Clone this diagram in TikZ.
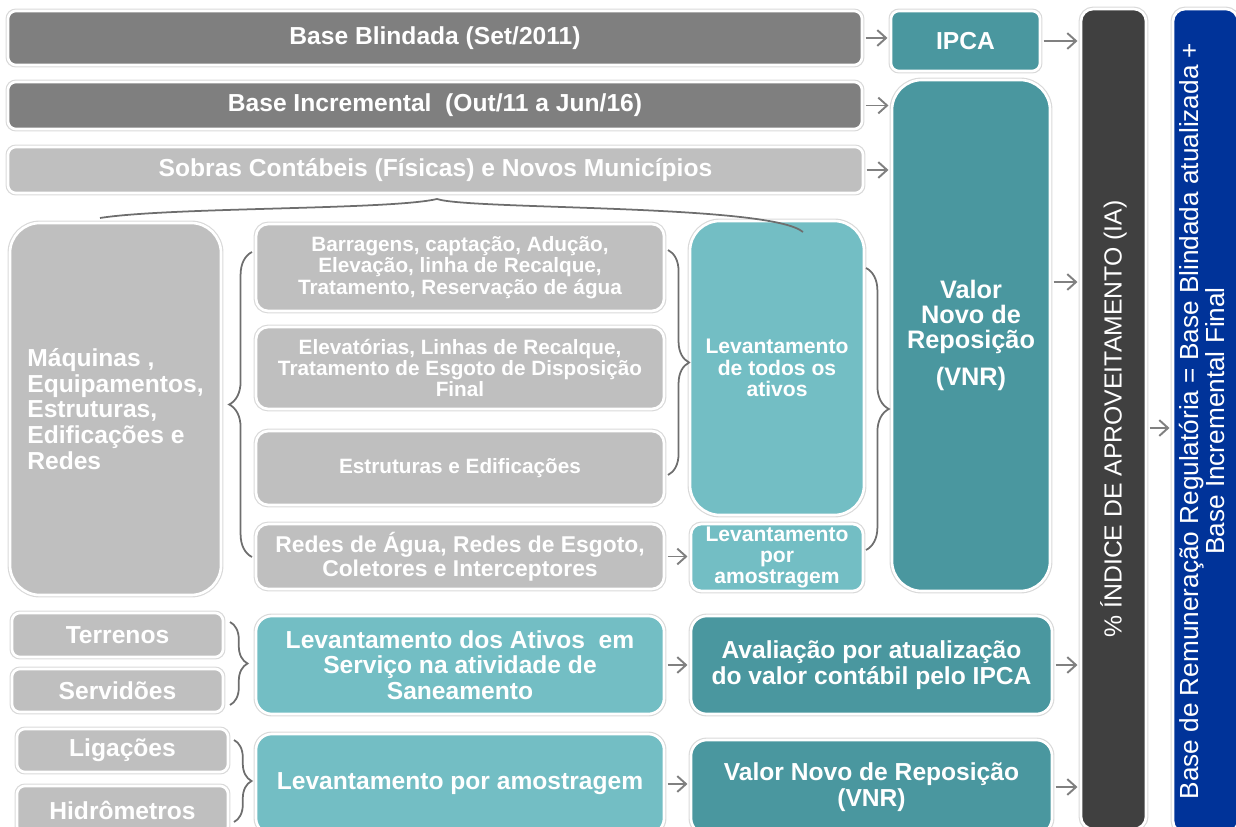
\documentclass[tikz,border=0pt]{standalone}
\usepackage{fontspec}
\setmainfont{Liberation Sans}
\usetikzlibrary{arrows.meta,decorations.pathreplacing}

\definecolor{cinzaesc}{HTML}{7F7F7F}
\definecolor{cinzacl}{HTML}{BFBFBF}
\definecolor{verdeesc}{HTML}{4A979F}
\definecolor{verdecl}{HTML}{73BEC4}
\definecolor{grafite}{HTML}{404040}
\definecolor{azul}{HTML}{003399}
\definecolor{cseta}{HTML}{808080}
\definecolor{cchave}{HTML}{6E6E6E}

\newcommand\fgr{\fontsize{14}{14.6}\selectfont\bfseries}
\newcommand\fmed{\fontsize{13}{13.7}\selectfont\bfseries}
\newcommand\fsub{\fontsize{11.8}{12.2}\selectfont\bfseries}
\newcommand\flev{\fontsize{12}{12.2}\selectfont\bfseries}
\newcommand\fvnr{\fontsize{14.4}{14.2}\selectfont\bfseries}
\newcommand\fvert{\fontsize{14.1}{13.7}\selectfont}
\newcommand\fazul{\fontsize{14.9}{13.7}\selectfont}

\begin{document}
\begin{tikzpicture}[x=0.02cm,y=-0.02cm,
  caixa/.style={draw=white, line width=1.5pt, text=white, align=center,
    inner sep=1pt, outer sep=0pt, preaction={draw=black!15, line width=2.8pt}},
  tam/.style 2 args={minimum width=#1*0.02cm, minimum height=#2*0.02cm},
  seta/.style={draw=cseta, line width=1.1pt, shorten >=2pt, shorten <=2pt,
    -{Straight Barb[length=5pt,width=9pt]}},
  chave/.style={draw=cchave, line width=1pt, decorate,
    decoration={brace, amplitude=#1}}]
\useasboundingbox (0,0) rectangle (1236,827);
\clip (0,0) rectangle (1236,827);

% faixas de cima
\node[caixa, fill=cinzaesc, rounded corners=4.5pt, tam={854}{54}, font=\fgr] (blind) at (435,38) {Base Blindada (Set/2011)};
\node[caixa, fill=verdeesc, rounded corners=4.5pt, tam={149}{60}, font=\fgr] (ipca) at (965.5,41) {IPCA};
\node[caixa, fill=cinzaesc, rounded corners=4.5pt, tam={854}{47}, font=\fgr] (incr) at (435,105.5) {Base Incremental\ \ (Out/11 a Jun/16)};
\node[caixa, fill=cinzacl, rounded corners=4.5pt, tam={855}{46}, font=\fgr] (sobras) at (435.5,170) {Sobras Contábeis (Físicas) e Novos Municípios};
\node[caixa, fill=verdeesc, rounded corners=17pt, tam={158}{511}, font=\fvnr] (vnr) at (971,335.5) {Valor\\Novo de\\Reposição\\[7pt](VNR)};

% barras verticais
\node[caixa, fill=grafite, rounded corners=7pt, tam={65}{820}, font=\fvert] (ia) at (1113.5,419) {\rotatebox{90}{\% ÍNDICE DE APROVEITAMENTO (IA)}};
\node[caixa, fill=azul, rounded corners=7pt, tam={65}{824}, font=\fazul] (rem) at (1205.5,421) {\rotatebox{90}{\begin{tabular}{@{}c@{}}Base de Remuneração Regulatória = Base Blindada atualizada +\\ Base Incremental Final\end{tabular}}};

% bloco do meio
\node[caixa, fill=cinzacl, rounded corners=17pt, tam={211}{372}, font=\fgr, align=left] (maq) at (115.5,409) {Máquinas ,\\Equipamentos,\\Estruturas,\\Edificações e\\Redes};
\node[caixa, fill=cinzacl, rounded corners=7pt, tam={408}{87}, font=\fsub] (barr) at (460,267.5) {Barragens, captação, Adução,\\Elevação, linha de Recalque,\\Tratamento, Reservação de água};
\node[caixa, fill=cinzacl, rounded corners=7pt, tam={408}{82}, font=\fsub] (elev) at (460,368) {Elevatórias, Linhas de Recalque,\\Tratamento de Esgoto de Disposição\\Final};
\node[caixa, fill=cinzacl, rounded corners=7pt, tam={408}{74}, font=\fsub] (estr) at (460,468) {Estruturas e Edificações};
\node[caixa, fill=cinzacl, rounded corners=7pt, tam={408}{65}, font=\fmed] (redes) at (460,556.5) {Redes de Água, Redes de Esgoto,\\Coletores e Interceptores};
\node[caixa, fill=verdecl, rounded corners=17pt, tam={174}{294}, font=\flev] (levtodos) at (777,368) {Levantamento\\de todos os\\ativos};
\node[caixa, fill=verdecl, rounded corners=6pt, tam={172}{67}, font=\flev] (levamo) at (777,557.5) {Levantamento\\por\\amostragem};

% bloco de baixo
\node[caixa, fill=cinzacl, rounded corners=4.5pt, tam={211}{44}, font=\fgr] (terr) at (117.5,635) {Terrenos};
\node[caixa, fill=cinzacl, rounded corners=4.5pt, tam={211}{43}, font=\fgr] (serv) at (117.5,690.5) {Servidões};
\node[caixa, fill=verdecl, rounded corners=9pt, tam={408}{98}, font=\fgr] (levativos) at (460,665) {Levantamento dos Ativos\ \ em\\Serviço na atividade de\\Saneamento};
\node[caixa, fill=verdeesc, rounded corners=9pt, tam={361}{98}, font=\fgr] (aval) at (871.5,665) {Avaliação por atualização\\do valor contábil pelo IPCA};
\node[caixa, fill=cinzacl, rounded corners=4.5pt, tam={211}{43}, font=\fgr] (lig) at (122.5,750.5) {Ligações};
\node[caixa, fill=cinzacl, rounded corners=4.5pt, tam={211}{48}, font=\fgr] (hidr) at (122.5,810) {Hidrômetros};
\node[caixa, fill=verdecl, rounded corners=9pt, tam={408}{100}, font=\fgr] (levamostra) at (460,784) {Levantamento por amostragem};
\node[caixa, fill=verdeesc, rounded corners=9pt, tam={361}{94}, font=\fgr] (vnr2) at (871.5,787) {Valor Novo de Reposição\\(VNR)};

% setas
\draw[seta] (blind.east) -- (blind.east -| ipca.west);
\draw[seta] (ipca) -- (ipca -| ia.west);
\draw[seta] (incr) -- (incr -| vnr.west);
\draw[seta] (sobras) -- (sobras -| vnr.west);
\draw[seta] ([yshift=1.07cm]vnr.east) -- ([yshift=1.07cm]vnr.east -| ia.west);
\draw[seta] ([yshift=-0.18cm]ia.east) -- ([yshift=-0.18cm]ia.east -| rem.west);
\draw[seta] (redes) -- (redes -| levamo.west);
\draw[seta] (levativos) -- (aval);
\draw[seta] (levamostra) -- (levamostra -| vnr2.west);
\draw[seta] (aval) -- (aval -| ia.west);
\draw[seta] (vnr2) -- (vnr2 -| ia.west);

% chaves
\draw[draw=cchave, line width=1pt] (100,218) .. controls (170,207) and (390,210) .. (437,199)
  .. controls (470,210) and (770,204) .. (803,232);
\draw[chave=13pt] (252,557) -- (252,252);
\draw[chave=12pt] (668,250) -- (668,475);
\draw[chave=13pt] (866,268) -- (866,550);
\draw[chave=10pt] (230,622) -- (230,705);
\draw[chave=10pt] (234,740) -- (234,822);
\end{tikzpicture}
\end{document}
